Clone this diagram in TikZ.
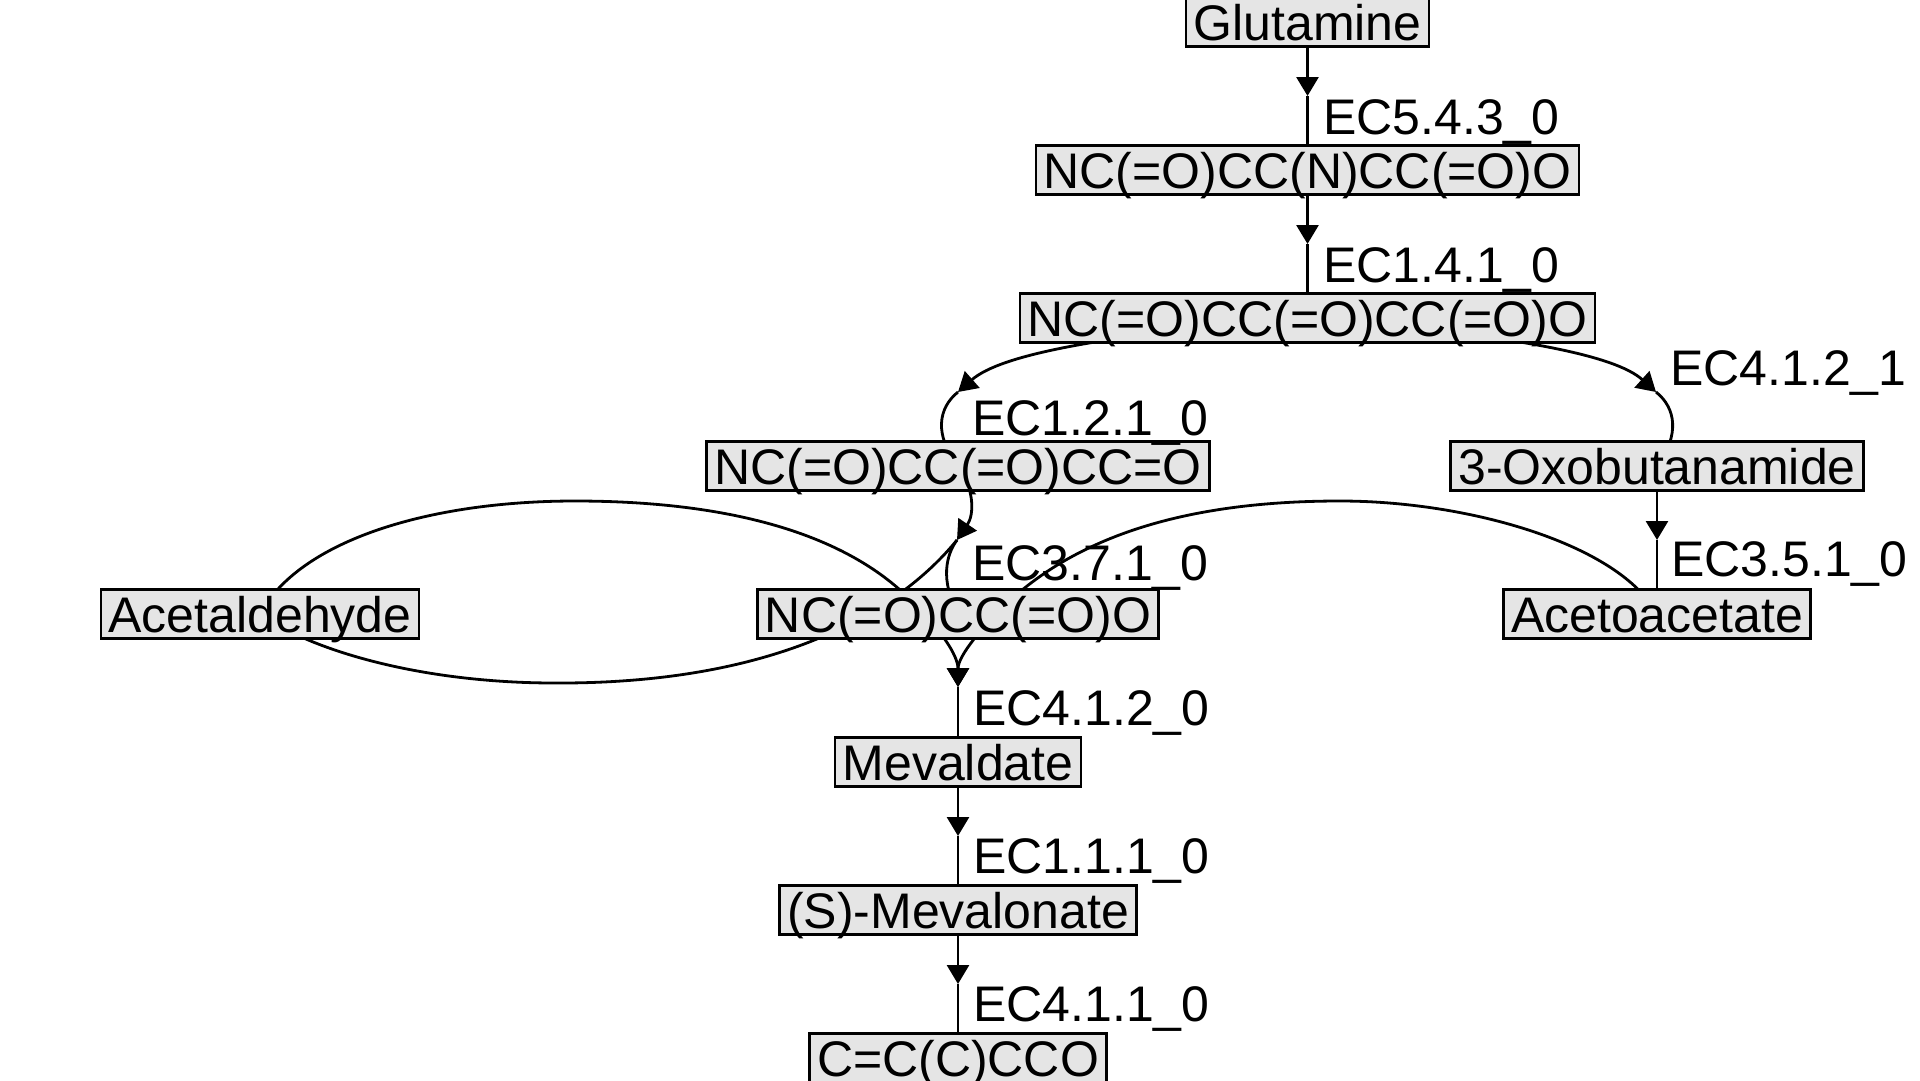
\documentclass[tikz,border=0pt]{standalone}
\usepackage{fontspec}
\setmainfont{Liberation Sans}
\usetikzlibrary{arrows.meta,calc,backgrounds}
\definecolor{boxgray}{RGB}{229,229,229}
\begin{document}
\begin{tikzpicture}[x=1pt,y=-1pt,
  mol/.style={draw=black, line width=2.6pt, fill=boxgray, inner xsep=7.5pt, inner ysep=0pt,
    minimum height=49pt, text height=36pt, text depth=0pt, font=\fontsize{50pt}{50pt}\selectfont},
  lbl/.style={anchor=base west, inner sep=0pt, font=\fontsize{50pt}{50pt}\selectfont},
  conn/.style={line width=2.8pt, line join=round},
  arr/.style={conn, -{Triangle[width=22pt 0 0,length=19pt 0 0]}},
]
\useasboundingbox (0,0) rectangle (1920,1080);

% compounds
\node[mol] (glu)  at (1307.5,22)  {Glutamine};
\node[mol] (n1)   at (1307.5,170) {NC(=O)CC(N)CC(=O)O};
\node[mol] (n2)   at (1307.5,318) {NC(=O)CC(=O)CC(=O)O};
\node[mol] (n3)   at (958,466)    {NC(=O)CC(=O)CC=O};
\node[mol] (oxo)  at (1657,466)   {3-Oxobutanamide};
\node[mol] (ald)  at (260,614)    {Acetaldehyde};
\node[mol] (n4)   at (958,614)    {NC(=O)CC(=O)O};
\node[mol] (aac)  at (1657,614)   {Acetoacetate};
\node[mol] (mev)  at (958,762)    {Mevaldate};
\node[mol] (smev) at (958,910)    {(S)-Mevalonate};
\node[mol] (ccco) at (958,1058)   {C=C(C)CCO};

% reaction points
\coordinate (r1) at (1307.5,96);
\coordinate (r2) at (1307.5,244);
\coordinate (r3) at (958,392);
\coordinate (r4) at (1656,392);
\coordinate (r5) at (957,540);
\coordinate (r6) at (1657,540);
\coordinate (r7) at (958,687);
\coordinate (r8) at (958,836);
\coordinate (r9) at (958,984);

\begin{scope}[on background layer]
\draw[arr]  (glu.center) -- (r1);
\draw[conn] (r1) -- (n1.center);
\draw[arr]  (n1.center) -- (r2);
\draw[conn] (r2) -- (n2.center);
\draw[arr]  (n2.center) .. controls (1100,335) and (1000,355) .. (r3);
\draw[conn] (r3) .. controls (938,408) and (934,435) .. (n3.center);
\draw[arr]  (n2.center) .. controls (1515,335) and (1615,355) .. (r4);
\draw[conn] (r4) .. controls (1676,408) and (1680,435) .. (oxo.center);
\draw[arr]  (n3.center) .. controls (975,490) and (974,515) .. (r5);
\draw[conn] (r5) .. controls (946,555) and (940,580) .. (n4.center);
\draw[conn] (r5) .. controls (900,610) and (780,684) .. (555,683)
                 .. controls (420,683) and (310,650) .. (ald.center);
\draw[arr]  (ald.center) .. controls (300,540) and (430,501) .. (575,501)
                 .. controls (720,501) and (850,530) .. (920,610)
                 .. controls (940,630) and (958,655) .. (r7);
\draw[arr]  (aac.center) .. controls (1620,545) and (1470,501) .. (1340,501)
                 .. controls (1200,501) and (1080,530) .. (1000,610)
                 .. controls (985,625) and (958,655) .. (r7);
\draw[arr]  (oxo.center) -- (r6);
\draw[conn] (r6) -- (aac.center);
\draw[conn] (r7) -- (mev.center);
\draw[arr]  (mev.center) -- (r8);
\draw[conn] (r8) -- (smev.center);
\draw[arr]  (smev.center) -- (r9);
\draw[conn] (r9) -- (ccco.center);
\end{scope}

% reaction labels
\node[lbl] (l1) at (1323,134) {EC5.4.3\_0};
\node[lbl] (l2) at (1323,282) {EC1.4.1\_0};
\node[lbl] (l3) at (972,435)  {EC1.2.1\_0};
\node[lbl] (l4) at (1670,385) {EC4.1.2\_1};
\node[lbl] (l5) at (972,580)  {EC3.7.1\_0};
\node[lbl] (l6) at (1671,576) {EC3.5.1\_0};
\node[lbl] (l7) at (973,725)  {EC4.1.2\_0};
\node[lbl] (l8) at (973,873)  {EC1.1.1\_0};
\node[lbl] (l9) at (973,1021) {EC4.1.1\_0};
\end{tikzpicture}
\end{document}
